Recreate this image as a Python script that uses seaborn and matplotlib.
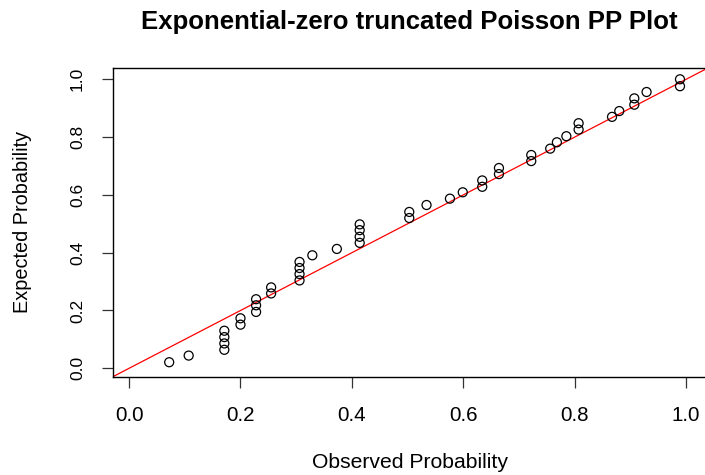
import matplotlib
matplotlib.use("Agg")
import matplotlib.pyplot as plt
import seaborn as sns
import pandas as pd

# Observed vs expected cumulative probabilities
observed = [0.072, 0.107,
            0.171, 0.171, 0.171, 0.171,
            0.200, 0.200,
            0.228, 0.228, 0.228,
            0.255, 0.255,
            0.306, 0.306, 0.306, 0.306,
            0.329, 0.373,
            0.414, 0.414, 0.414, 0.414,
            0.503, 0.503,
            0.534, 0.576, 0.599,
            0.634, 0.634,
            0.664, 0.664,
            0.722, 0.722,
            0.756, 0.768, 0.785,
            0.807, 0.807,
            0.867, 0.880,
            0.907, 0.907,
            0.929,
            0.989, 0.989]
expected = [0.021, 0.044,
            0.130, 0.108, 0.086, 0.064,
            0.173, 0.151,
            0.239, 0.218, 0.195,
            0.280, 0.259,
            0.368, 0.347, 0.326, 0.304,
            0.391, 0.413,
            0.498, 0.478, 0.455, 0.434,
            0.541, 0.520,
            0.565, 0.587, 0.609,
            0.650, 0.628,
            0.693, 0.672,
            0.738, 0.717,
            0.760, 0.782, 0.803,
            0.848, 0.826,
            0.870, 0.890,
            0.934, 0.912,
            0.956,
            1.000, 0.976]

title = "Exponential-zero truncated Poisson PP Plot"
x_label = "Observed Probability"
y_label = "Expected Probability"
ticks = [0.0, 0.2, 0.4, 0.6, 0.8, 1.0]
tick_labels = ["0.0", "0.2", "0.4", "0.6", "0.8", "1.0"]

df = pd.DataFrame({"observed": observed, "expected": expected})

sns.set_style("white")
plt.rcParams["font.family"] = ["Liberation Sans", "DejaVu Sans"]
plt.rcParams.update({"text.color": "black", "axes.labelcolor": "black",
                     "xtick.color": "black", "ytick.color": "black"})

W, H = 705, 475
fig = plt.figure(figsize=(W / 100, H / 100), dpi=100)
left, right, top, bottom = 112.7, 708.4, 68.3, 377.0
ax = fig.add_axes([left / W, 1 - bottom / H, (right - left) / W, (bottom - top) / H])

sns.scatterplot(data=df, x="observed", y="expected", ax=ax,
                marker="o", s=42, facecolor="none", edgecolor="black",
                linewidth=0.9, zorder=3)
ax.axline((0, 0), slope=1, color="red", linewidth=0.9, zorder=2)

ax.set_xlim(-0.0294, 1.040)
ax.set_ylim(-0.0301, 1.038)

ax.set_xticks(ticks)
ax.set_xticklabels(tick_labels, fontsize=14.8)
ax.set_yticks(ticks)
ax.set_yticklabels(tick_labels, fontsize=12.5, rotation=90, va="center")
ax.tick_params(axis="both", direction="out", length=8, width=0.9, color="#333333",
               pad=12, left=True, bottom=True)
ax.tick_params(axis="x", pad=13)

for sp in ax.spines.values():
    sp.set_color("black")
    sp.set_linewidth(1.0)
ax.spines["right"].set_visible(False)

ax.set_xlabel(x_label, fontsize=15.2, va="center")
ax.set_ylabel(y_label, fontsize=14.3, va="center")
ax.xaxis.set_label_coords((410 - left) / (right - left), (bottom - 463) / (bottom - top))
ax.yaxis.set_label_coords((22 - left) / (right - left), (bottom - 222) / (bottom - top))

fig.text(409 / W, 1 - 22 / H, title, ha="center", va="center",
         fontsize=18.5, fontweight="bold")

fig.savefig("out.png", dpi=100)
